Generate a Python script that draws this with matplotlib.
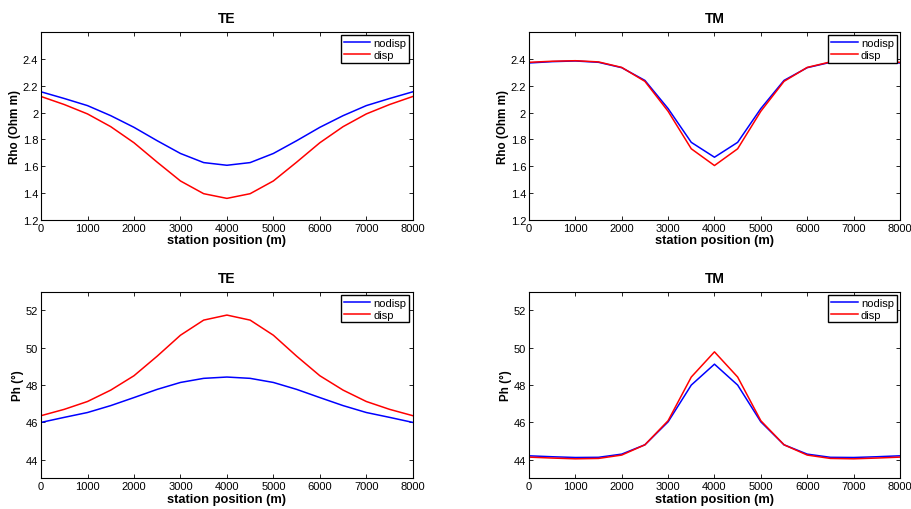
import matplotlib
matplotlib.use('Agg')
import matplotlib.pyplot as plt

plt.rcParams['font.family'] = ['Liberation Sans', 'DejaVu Sans']

station = [0, 500, 1000, 1500, 2000, 2500, 3000, 3500, 4000,
           4500, 5000, 5500, 6000, 6500, 7000, 7500, 8000]

# apparent resistivity, TE
rho_te_nodisp = [2.155, 2.105, 2.052, 1.977, 1.89, 1.79, 1.695, 1.627, 1.607,
                 1.627, 1.695, 1.79, 1.89, 1.977, 2.052, 2.105, 2.155]
rho_te_disp = [2.12, 2.06, 1.99, 1.895, 1.775, 1.63, 1.49, 1.395, 1.36,
               1.395, 1.49, 1.63, 1.775, 1.895, 1.99, 2.06, 2.12]

# apparent resistivity, TM
rho_tm_nodisp = [2.37, 2.38, 2.385, 2.375, 2.335, 2.24, 2.03, 1.778, 1.667,
                 1.778, 2.03, 2.24, 2.335, 2.375, 2.385, 2.38, 2.37]
rho_tm_disp = [2.375, 2.383, 2.387, 2.378, 2.337, 2.233, 2.01, 1.73, 1.605,
               1.73, 2.01, 2.233, 2.337, 2.378, 2.387, 2.383, 2.375]

# phase, TE
ph_te_nodisp = [46.0, 46.27, 46.53, 46.9, 47.33, 47.77, 48.14, 48.36, 48.43,
                48.36, 48.14, 47.77, 47.33, 46.9, 46.53, 46.27, 46.0]
ph_te_disp = [46.36, 46.7, 47.12, 47.73, 48.5, 49.55, 50.67, 51.48, 51.75,
              51.48, 50.67, 49.55, 48.5, 47.73, 47.12, 46.7, 46.36]

# phase, TM
ph_tm_nodisp = [44.21, 44.16, 44.12, 44.13, 44.3, 44.8, 46.03, 48.0, 49.12,
                48.0, 46.03, 44.8, 44.3, 44.13, 44.12, 44.16, 44.21]
ph_tm_disp = [44.14, 44.09, 44.05, 44.07, 44.25, 44.8, 46.09, 48.43, 49.78,
              48.43, 46.09, 44.8, 44.25, 44.07, 44.05, 44.09, 44.14]

rho_ticks = [1.2, 1.4, 1.6, 1.8, 2.0, 2.2, 2.4, 2.6]
rho_labels = ['1.2', '1.4', '1.6', '1.8', '2', '2.2', '2.4', '']
ph_ticks = [44, 46, 48, 50, 52]
ph_labels = ['44', '46', '48', '50', '52']

panels = [
    ('TE', 'Rho (Ohm m)', rho_te_nodisp, rho_te_disp, (1.2, 2.6), rho_ticks, rho_labels),
    ('TM', 'Rho (Ohm m)', rho_tm_nodisp, rho_tm_disp, (1.2, 2.6), rho_ticks, rho_labels),
    ('TE', 'Ph (°)', ph_te_nodisp, ph_te_disp, (43, 53), ph_ticks, ph_labels),
    ('TM', 'Ph (°)', ph_tm_nodisp, ph_tm_disp, (43, 53), ph_ticks, ph_labels),
]

positions = [
    [0.045, 0.567, 0.4076, 0.368],
    [0.580, 0.567, 0.4068, 0.368],
    [0.045, 0.060, 0.4076, 0.366],
    [0.580, 0.060, 0.4068, 0.366],
]

fig = plt.figure(figsize=(9.12, 5.1), dpi=100)

for (title, ylabel, nodisp, disp, ylim, yticks, yticklabels), pos in zip(panels, positions):
    ax = fig.add_axes(pos)
    ax.plot(station, nodisp, color='#0000ff', linewidth=1.1, label='nodisp')
    ax.plot(station, disp, color='#ff0000', linewidth=1.1, label='disp')
    ax.set_xlim(0, 8000)
    ax.set_ylim(*ylim)
    ax.set_xticks(range(0, 8001, 1000))
    ax.set_yticks(yticks)
    ax.set_yticklabels(yticklabels)
    ax.tick_params(direction='in', top=True, right=True, labelsize=8, length=3, width=0.6, pad=2)
    for sp in ax.spines.values():
        sp.set_linewidth(0.8)
    ax.set_title(title, fontsize=10, fontweight='bold', pad=7)
    ax.set_xlabel('station position (m)', fontsize=9.3, fontweight='bold', labelpad=1)
    ax.set_ylabel(ylabel, fontsize=8.4, fontweight='bold', labelpad=1.5)
    leg = ax.legend(loc='upper right', fontsize=8, fancybox=False, framealpha=1,
                    edgecolor='black', borderpad=0.25, labelspacing=0.15,
                    handlelength=2.4, handletextpad=0.3, borderaxespad=0.3)
    leg.get_frame().set_linewidth(1.0)

fig.savefig('out.png', dpi=100)
